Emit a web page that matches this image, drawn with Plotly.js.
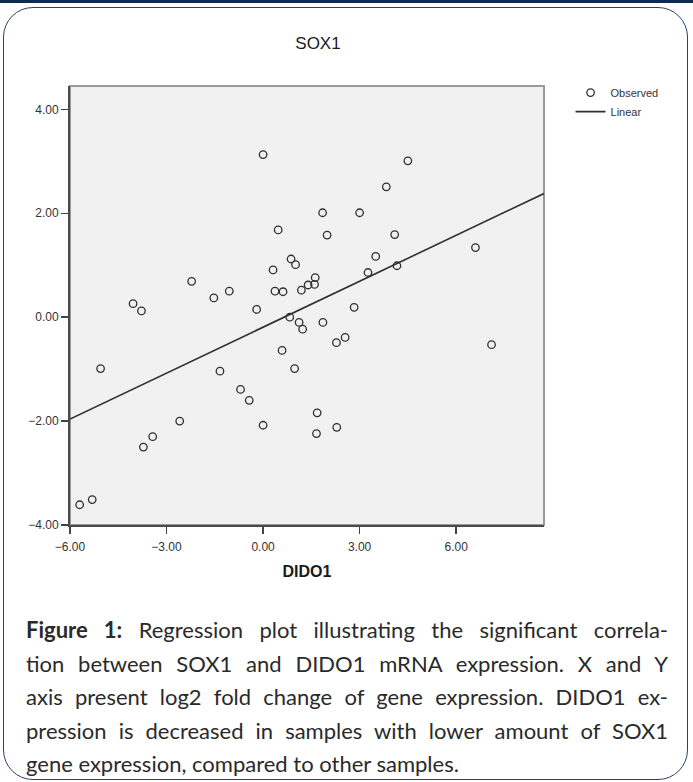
<!DOCTYPE html>
<html>
<head>
<meta charset="utf-8">
<script src="https://cdn.plot.ly/plotly-3.0.1.min.js"></script>
<style>
  html, body { margin:0; padding:0; background:#ffffff; width:693px; height:782px; overflow:hidden; }
  #topbar { position:absolute; left:0; top:0; width:693px; height:3px; background:#0e2b52; }
  #frame { position:absolute; left:3px; top:7px; width:685px; height:773px; border:1.5px solid #2b4169; border-radius:30px; box-sizing:border-box; }
  #chart { position:absolute; left:0; top:0; width:693px; height:600px; }
  #caption { position:absolute; left:26px; top:613px; width:642px; font-family:Lato, "Open Sans", sans-serif; font-size:22px; color:#2a2a2a; line-height:33.5px; }
  #caption .l { text-align:justify; text-align-last:justify; white-space:nowrap; }
  #caption .last { text-align:left; white-space:nowrap; }
</style>
</head>
<body>
<div id="topbar"></div>
<div id="frame"></div>
<div id="chart"></div>
<div id="caption"></div>
<script>
// ---- data ----
const dido1 = [0.00, 4.50, 3.83, 1.85, 3.00, 0.47, 1.99, 4.09, 6.60, 3.50,
               0.87, 1.01, 4.16, 0.31, 3.26, 1.62, -2.22, 1.40, 1.60, -1.05,
               0.37, 0.62, 1.19, -1.53, -4.04, 2.83, -0.20, -3.78, 0.83, 1.12,
               1.86, 1.23, 2.55, 2.28, 7.10, 0.59, -5.05, 0.98, -1.34, -0.70,
               -0.43, -2.59, 0.00, 1.68, 1.66, 2.29, -3.43, -3.72, -5.70, -5.31];
const sox1  = [3.13, 3.01, 2.51, 2.01, 2.01, 1.68, 1.58, 1.59, 1.34, 1.17,
               1.12, 1.01, 0.99, 0.91, 0.86, 0.76, 0.69, 0.62, 0.63, 0.50,
               0.50, 0.49, 0.52, 0.37, 0.26, 0.19, 0.15, 0.12, 0.00, -0.10,
               -0.10, -0.23, -0.39, -0.49, -0.53, -0.64, -0.99, -0.99, -1.04, -1.39,
               -1.60, -2.00, -2.08, -1.84, -2.24, -2.12, -2.30, -2.50, -3.61, -3.51];
const linearX = [-6.00, 8.73];
const linearY = [-1.96, 2.38];
const xTicks = [-6, -3, 0, 3, 6];
const yTicks = [-4, -2, 0, 2, 4];
const chartTitle = "SOX1";
const xTitle = "DIDO1";
const yTitle = "";
const legendNames = ["Observed", "Linear"];
const captionBold = "Figure 1:";
const captionLines = [
  " Regression plot illustrating the significant correla-",
  "tion between SOX1 and DIDO1 mRNA expression. X and Y",
  "axis present log2 fold change of gene expression. DIDO1 ex-",
  "pression is decreased in samples with lower amount of SOX1",
  "gene expression, compared to other samples."
];

// ---- chart ----
const ink = "#2f2f2f";
const fam = '"Liberation Sans", Arial, sans-serif';
const traces = [
  { type:"scatter", mode:"markers", name:legendNames[0], x:dido1, y:sox1,
    marker:{ symbol:"circle-open", size:7.5, color:ink, line:{ width:1.3, color:ink } },
    hoverinfo:"x+y" },
  { type:"scatter", mode:"lines", name:legendNames[1], x:linearX, y:linearY,
    line:{ color:ink, width:1.6 }, hoverinfo:"skip" }
];

const axisFont = { family:fam, size:12, color:"#333" };
const layout = {
  width:693, height:600,
  margin:{ l:70, r:149, t:86, b:75 },
  paper_bgcolor:"rgba(0,0,0,0)",
  plot_bgcolor:"#f1f1f1",
  font:{ family:fam, color:"#222" },
  title:{ text:chartTitle, font:{ family:fam, size:17, color:"#1a1a1a" }, x:318/693, xref:"container", xanchor:"center",
          y:1 - 43/600, yref:"container", yanchor:"middle" },
  xaxis:{ range:[-6, 8.73], tickvals:xTicks, tickformat:".2f", ticks:"outside", ticklen:7, tickwidth:1.5,
          tickcolor:"#444", showline:true, linecolor:"#4a4a4a", linewidth:2, showgrid:false, zeroline:false,
          tickfont:axisFont, ticklabelstandoff:3,
          title:{ text:xTitle, font:{ family:fam, size:16, weight:"bold", color:"#1a1a1a" }, standoff:12 } },
  yaxis:{ range:[-4, 4.45], tickvals:yTicks, tickformat:".2f", ticks:"outside", ticklen:7, tickwidth:1.5,
          tickcolor:"#444", showline:true, linecolor:"#4a4a4a", linewidth:2, showgrid:false, zeroline:false,
          tickfont:axisFont, ticklabelstandoff:0,
          title:{ text:yTitle } },
  shapes:[{ type:"rect", xref:"paper", yref:"paper", x0:0, x1:1, y0:0, y1:1, layer:"below",
            line:{ color:"#9a9a9a", width:2 } }],
  showlegend:true,
  legend:{ x:1.056, y:1.018, xanchor:"left", yanchor:"top", bgcolor:"rgba(0,0,0,0)",
           font:{ family:fam, size:11, color:"#333" }, itemwidth:30, tracegroupgap:0 },
};

Plotly.newPlot("chart", traces, layout, { staticPlot:true, displayModeBar:false });

// ---- caption ----
const cap = document.getElementById("caption");
captionLines.forEach((t, i) => {
  const d = document.createElement("div");
  d.className = (i === captionLines.length - 1) ? "last" : "l";
  if (i === 0) {
    const b = document.createElement("b");
    b.textContent = captionBold;
    d.appendChild(b);
  }
  d.appendChild(document.createTextNode(t));
  cap.appendChild(d);
});
</script>
</body>
</html>
